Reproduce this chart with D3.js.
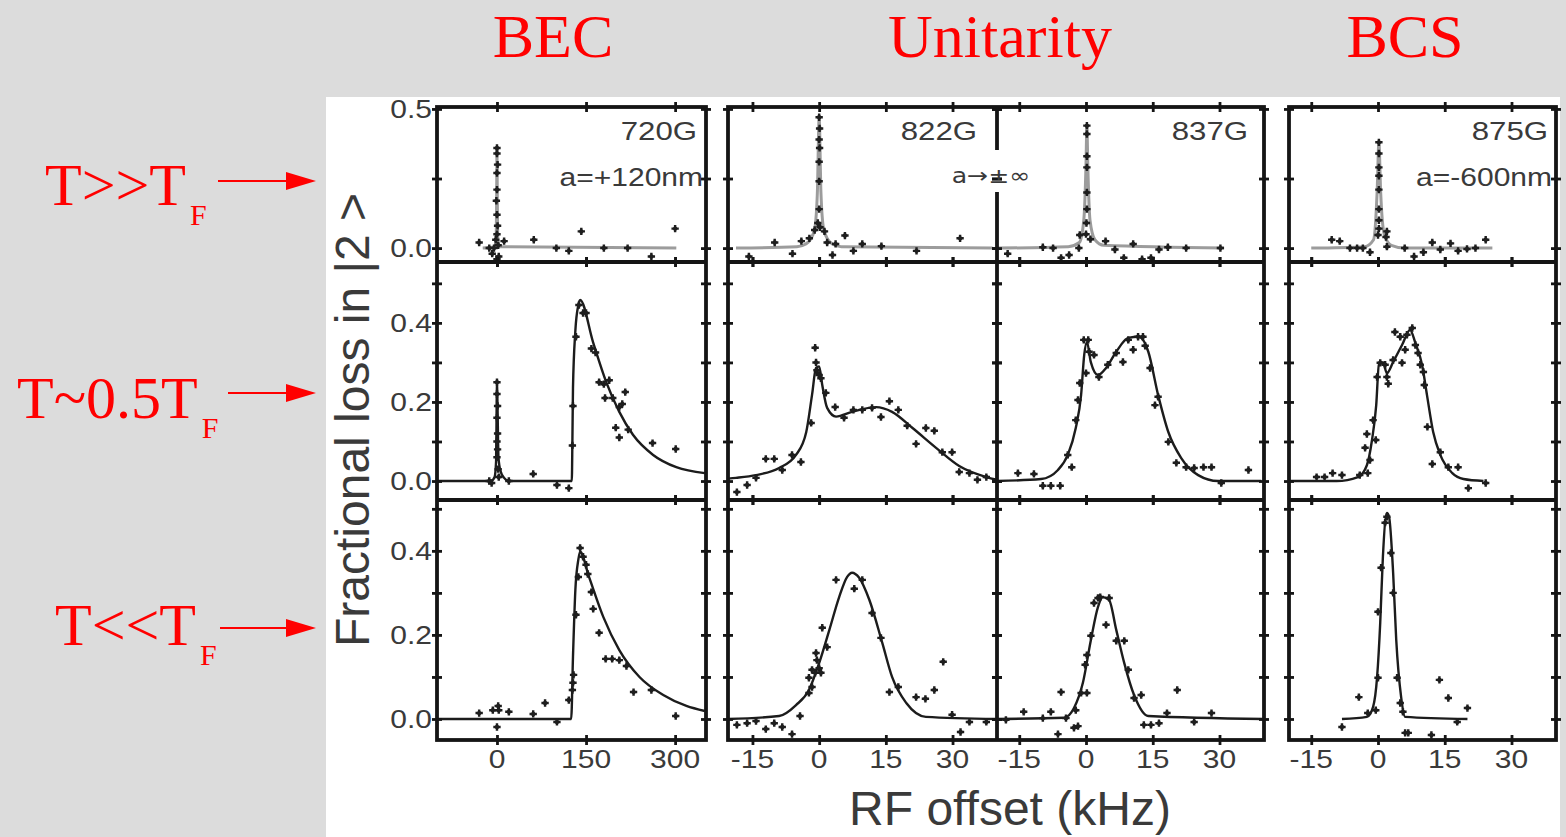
<!DOCTYPE html>
<html>
<head>
<meta charset="UTF-8">
<title>RF spectra - BEC / Unitarity / BCS</title>
<script src="https://cdn.jsdelivr.net/npm/d3@7"></script>
<style>
  body { margin: 0; background: #dcdcdc; }
  svg { display: block; }
</style>
</head>
<body>
<svg id="chart" width="1566" height="837"></svg>
<script>
// ---------------------------------------------------------------
// data
// ---------------------------------------------------------------
const regimeTitles = ["BEC", "Unitarity", "BCS"];
const tempLabels = ["T>>T", "T~0.5T", "T<<T"];
const fieldLabels = ["720G", "822G", "837G", "875G"];
const lengthLabels = ["a=+120nm", "a\u2192\u00b1\u221e", "a=-600nm"];
const becTicks = [0, 150, 300];
const khzTicks = [-15, 0, 15, 30];
const yTicksHot = [0, 0.25, 0.5];
const yTicksCold = [0, 0.1, 0.2, 0.3, 0.4, 0.5];
const yLabelsHot = [0, 0.5];
const yLabelsCold = [0, 0.2, 0.4];

// row 1 : T >> TF
const fitBecHot = [[-24,0],[-4,0.005],[-1.5,0.03],[-0.5,0.2],[0,0.36],[0.5,0.2],[1.5,0.03],[4,0.005],[302,0]];
const ptsBecHot = [[-30,0.02],[-13,0],[-8,-0.02],[-5,0],[-2,0.03],[0,-0.04],[0,0.05],[1,0.08],[0,0.12],[-1,0.17],
  [0,0.21],[0,0.27],[1,0.3],[0,0.34],[0,0.36],[2,0.01],[3,-0.03],[12,0.025],[62,0.03],[100,0],[121,-0.01],
  [142,0.06],[180,0],[220,0],[260,-0.03],[300,0.07]];
const fit822Hot = [[-18.7,0],[-5,0.005],[-3,0.015],[-2,0.03],[-1,0.07],[-0.4,0.2],[0,0.47],[0.4,0.2],[1,0.07],
  [2,0.03],[3,0.015],[5,0.005],[39,0]];
const pts822Hot = [[-15.8,-0.03],[-10,0.02],[-6,-0.02],[-4,0.025],[-2.2,0.035],[-1,0.065],[-0.3,0.09],[0,0.14],
  [0,0.24],[0,0.31],[0.1,0.36],[0,0.39],[0.1,0.43],[0,0.47],[0.2,0.075],[1.2,0.06],[1.8,0.02],[3,-0.025],
  [3.7,0.015],[5.8,0.045],[7.7,-0.01],[9.7,0.015],[14,0.007],[21.9,-0.01],[31.7,0.035]];
const fit837Hot = [[-19.8,0],[-4,0.005],[-1.5,0.02],[-0.5,0.1],[0,0.3],[0.2,0.44],[0.4,0.3],[0.9,0.1],[2,0.03],
  [4,0.01],[31,0]];
const pts837Hot = [[-17.6,-0.02],[-9.7,0.003],[-7.4,0],[-5.6,-0.035],[-3.8,-0.025],[-1.6,0],[-1.4,0.047],
  [0,0.05],[0.1,0.09],[0.2,0.14],[0.2,0.2],[0.2,0.29],[0.2,0.33],[0.2,0.41],[0.2,0.44],[1,0.032],[4.4,0.025],
  [6.5,-0.005],[8.5,-0.035],[10.6,0.015],[12.6,-0.04],[14.6,-0.035],[16.4,-0.005],[18.4,0.003],[22.5,0],[30.2,0]];
const fitBcsHot = [[-15,0],[-3,0.005],[-1,0.03],[-0.2,0.2],[0.2,0.38],[0.6,0.2],[1.4,0.05],[3,0.01],[6,0],[25.7,0]];
const ptsBcsHot = [[-10.4,0.03],[-8.6,0.025],[-6.3,0],[-4.7,0],[-3.4,0],[-1.8,-0.015],[0,0.047],[0.2,0.07],
  [0.2,0.1],[0.2,0.14],[0.2,0.21],[0.2,0.26],[0.2,0.29],[0.2,0.34],[0.2,0.38],[2,0.005],[1.8,0.04],[2,0.06],
  [6,0],[8.1,-0.03],[10.2,-0.015],[12.2,0.02],[14,-0.005],[16.3,0.017],[18,-0.01],[20,-0.003],[21.9,0],[24.2,0.03]];

// row 2 : T ~ 0.5 TF
const fitBecMid = [[-101,0],[-10,0],[-4,0.01],[-1.5,0.05],[-0.5,0.2],[0,0.255],[0.8,0.2],[2.5,0.06],[6,0.025],
  [12,0.008],[20,0],[126,0],[127,0.1],[128,0.235],[132,0.38],[137,0.445],[140,0.458],[162,0.35],[184,0.25],
  [206,0.175],[229,0.117],[263,0.066],[302,0.035],[350,0.02]];
const ptsBecMid = [[0,0.25],[0,0.22],[1,0.19],[0,0.16],[1,0.12],[0,0.1],[1,0.08],[0,0.06],[2,0.03],[3,0.01],
  [-13,0],[-9,-0.005],[20,0],[61,0.018],[101,-0.01],[121,-0.018],[127,0.09],[128,0.19],[133,0.365],[138,0.445],
  [145,0.425],[150,0.425],[159,0.335],[166,0.325],[172,0.25],[180,0.245],[189,0.255],[182,0.21],[195,0.21],
  [206,0.187],[216,0.225],[211,0.195],[200,0.135],[206,0.11],[221,0.13],[262,0.096],[301,0.081]];
const fit822Mid = [[-20.5,0.006],[-18.7,0.008],[-14.2,0.015],[-9,0.033],[-5.2,0.066],[-2.9,0.124],[-1.6,0.218],
  [-0.7,0.286],[0,0.29],[0.7,0.243],[1.8,0.185],[3.8,0.163],[7.4,0.175],[12.8,0.187],[16.4,0.175],[21,0.134],
  [26.3,0.084],[31.5,0.038],[37.6,0.01],[40,0.003]];
const pts822Mid = [[-18.5,-0.028],[-16.2,-0.01],[-14.2,0.008],[-12,0.056],[-10.1,0.056],[-8.3,0.028],[-6.1,0.066],
  [-4.1,0.048],[-1.8,0.147],[-0.9,0.337],[-0.7,0.3],[-0.5,0.28],[0,0.268],[0.4,0.26],[1.5,0.223],[3.6,0.187],
  [5.6,0.16],[7.7,0.18],[9.7,0.18],[11.9,0.185],[13.9,0.162],[15.8,0.202],[17.8,0.18],[19.8,0.14],[21.8,0.094],
  [24,0.134],[25.9,0.127],[27.7,0.073],[29.9,0.073],[31.5,0.023],[33.8,0.02],[35.6,0.003],[37.6,0.01]];
const fit837Mid = [[-20,0],[-10.1,0.005],[-6.3,0.028],[-4.1,0.066],[-2.3,0.134],[-1.1,0.218],[-0.4,0.319],
  [0.2,0.352],[1.1,0.3],[2.7,0.268],[4.5,0.286],[6.8,0.327],[9.5,0.362],[11.9,0.365],[14,0.327],[16.2,0.218],
  [18.5,0.124],[21.4,0.058],[25.2,0.015],[29.7,0],[39.4,0]];
const pts837Mid = [[-15.3,0.02],[-11.7,0.018],[-9.7,-0.012],[-7.9,-0.012],[-5.8,-0.012],[-4.1,0.066],[-3.2,0.035],
  [-2.3,0.154],[-1.8,0.205],[-1.4,0.248],[-0.5,0.357],[0.5,0.357],[0,0.273],[0.7,0.327],[1.8,0.319],[2.9,0.263],
  [4.9,0.294],[6.8,0.324],[8.3,0.301],[9.5,0.357],[10.6,0.332],[11.7,0.365],[12.8,0.365],[13.3,0.342],
  [14.4,0.286],[16.2,0.213],[15.5,0.192],[18.5,0.099],[20.3,0.046],[22.5,0.035],[24.3,0.033],[26.4,0.035],
  [28.2,0.035],[30.4,-0.005],[36.5,0.028]];
const fitBcsMid = [[-19.9,0],[-9.3,0],[-4.5,0.01],[-2.5,0.04],[-1.4,0.1],[-0.4,0.192],[0.2,0.294],[1.1,0.3],
  [2,0.273],[3.4,0.301],[5.4,0.344],[7.2,0.382],[8.4,0.349],[9.9,0.294],[11,0.218],[12.4,0.124],[14,0.066],
  [16.7,0.02],[19.2,0.005],[23.7,0]];
const ptsBcsMid = [[-13.8,0.01],[-12,0.01],[-10.2,0.02],[-8.1,0.015],[-4.1,0.015],[-2.3,0.02],[-1.8,0.053],
  [-2.9,0.084],[-2.5,0.119],[-1.1,0.154],[-0.5,0.104],[-0.2,0.263],[0.5,0.299],[1.6,0.294],[2,0.263],[2.3,0.246],
  [3.8,0.377],[3.4,0.306],[5.4,0.299],[6.1,0.332],[5,0.365],[6.5,0.37],[7.7,0.387],[8.4,0.344],[9,0.324],
  [9.5,0.294],[10.2,0.276],[10.4,0.243],[11.1,0.137],[12.2,0.043],[14,0.073],[15.8,0.035],[18,0.035],
  [20.3,-0.018],[24.2,-0.005]];

// row 3 : T << TF
const fitBecCold = [[-101,0],[125,0],[128,0.148],[132,0.307],[137,0.379],[140,0.398],[155,0.338],[179,0.243],
  [206,0.164],[240,0.1],[280,0.057],[319,0.031],[350,0.019]];
const ptsBecCold = [[-30,0.014],[-7,0.021],[2,0.031],[3,0.021],[20,0.017],[0,-0.019],[61,0.012],[81,0.038],
  [101,-0.007],[121,0.045],[127,0.069],[128,0.086],[129,0.105],[133,0.248],[137,0.338],[140,0.407],[145,0.386],
  [150,0.367],[153,0.345],[159,0.302],[162,0.262],[172,0.205],[183,0.143],[194,0.143],[206,0.14],[218,0.126],
  [230,0.064],[260,0.069],[301,0.007]];
const fit822Cold = [[-20.5,0],[-9,0.007],[-5.2,0.033],[-2.3,0.069],[0,0.133],[2.3,0.212],[4.5,0.29],[6.3,0.338],
  [7.4,0.348],[9,0.336],[11.3,0.283],[14.2,0.181],[16.4,0.1],[19.6,0.038],[24,0.005],[40,0]];
const pts822Cold = [[-18.5,-0.014],[-16.2,-0.01],[-14.2,-0.005],[-12,-0.024],[-10.1,-0.01],[-8.3,-0.019],
  [-6.1,-0.036],[-4.3,0.007],[-2.3,0.062],[-1.6,0.076],[-2.3,0.098],[-1.6,0.117],[-0.9,0.11],[-0.5,0.14],
  [-0.7,0.157],[0,0.121],[0.4,0.11],[0.7,0.217],[1.8,0.171],[3.8,0.331],[7.9,0.31],[9.7,0.331],[11.9,0.252],
  [13.9,0.193],[15.8,0.064],[17.8,0.076],[21.8,0.052],[23.9,0.048],[25.9,0.069],[27.9,0.136],[29.9,0.01],
  [31.8,-0.031],[33.8,-0.007],[37.6,-0.007]];
const fit837Cold = [[-20,0],[-4.9,0.003],[-2.7,0.026],[-0.7,0.086],[1.1,0.188],[2.7,0.267],[3.8,0.29],[5.2,0.283],
  [6.8,0.212],[8.6,0.133],[10.8,0.057],[14,0.007],[40,0]];
const pts837Cold = [[-18,-0.002],[-14,0.017],[-9.7,0.002],[-7.9,0.017],[-6.3,-0.036],[-5.6,0.064],[-4.5,0.002],
  [-2.7,-0.021],[-1.8,-0.017],[-2.3,0.021],[-1.1,0.062],[0.2,0.062],[-0.2,0.129],[0.2,0.152],[1.1,0.198],
  [1.8,0.276],[2.7,0.288],[3.2,0.29],[4.5,0.224],[5.2,0.288],[6.8,0.186],[8.6,0.186],[9.5,0.117],[10.8,0.05],
  [12.4,0.057],[13,-0.014],[14.6,-0.014],[16.4,-0.01],[18.2,0.014],[20.5,0.069],[24.3,-0.007],[28.2,0.014]];
const fitBcsCold = [[-8.1,0],[-2.5,0.005],[-1.1,0.029],[-0.2,0.1],[0.5,0.229],[1.1,0.386],[2,0.49],[2.5,0.48],
  [3.4,0.348],[4.1,0.188],[5.2,0.052],[6.1,0.005],[20.1,0]];
const ptsBcsCold = [[-8.1,-0.019],[-4.3,0.052],[-2.3,0.014],[-0.5,0.021],[0,0.098],[0,0.255],[0.7,0.36],
  [1.6,0.467],[2,0.481],[2.9,0.395],[3.4,0.3],[4.3,0.098],[5,0.038],[5.6,0.017],[6.1,-0.033],[6.8,-0.033],
  [12,-0.038],[13.8,0.093],[15.8,0.05],[17.8,-0.007],[20.1,0.026]];

// ---------------------------------------------------------------
// layout
// ---------------------------------------------------------------
const svg = d3.select("#chart");
const ink = "#151515";
const textGrey = "#3a3a3a";
const red = "#ff0000";

svg.append("rect").attr("x", 326).attr("y", 97).attr("width", 1234).attr("height", 740).attr("fill", "#fff");

const cols = [
  { x0: 437, x1: 706, dom: [-101, 352], ticks: becTicks },
  { x0: 728, x1: 997, dom: [-20.5, 40], ticks: khzTicks },
  { x0: 997, x1: 1264, dom: [-20, 40], ticks: khzTicks },
  { x0: 1289, x1: 1556, dom: [-20, 40], ticks: khzTicks }
];
const rows = [
  { y0: 107, y1: 262, dom: [-0.05, 0.507], ticks: yTicksHot, labels: yLabelsHot },
  { y0: 262, y1: 500, dom: [-0.048, 0.554], ticks: yTicksCold, labels: yLabelsCold },
  { y0: 500, y1: 740, dom: [-0.05, 0.521], ticks: yTicksCold, labels: yLabelsCold }
];
cols.forEach(c => c.x = d3.scaleLinear().domain(c.dom).range([c.x0, c.x1]));
rows.forEach(r => r.y = d3.scaleLinear().domain(r.dom).range([r.y1, r.y0]));

const panels = [
  [fitBecHot, ptsBecHot, fit822Hot, pts822Hot, fit837Hot, pts837Hot, fitBcsHot, ptsBcsHot],
  [fitBecMid, ptsBecMid, fit822Mid, pts822Mid, fit837Mid, pts837Mid, fitBcsMid, ptsBcsMid],
  [fitBecCold, ptsBecCold, fit822Cold, pts822Cold, fit837Cold, pts837Cold, fitBcsCold, ptsBcsCold]
];

const marker = d3.symbol().type(d3.symbolCross).size(30);
const defs = svg.append("defs");

rows.forEach(function (r, ri) {
  cols.forEach(function (c, ci) {
    const id = "clip" + ri + ci;
    defs.append("clipPath").attr("id", id).append("rect")
      .attr("x", c.x0).attr("y", r.y0).attr("width", c.x1 - c.x0).attr("height", r.y1 - r.y0);

    const g = svg.append("g");
    const fit = panels[ri][ci * 2];
    const pts = panels[ri][ci * 2 + 1];
    const line = d3.line()
      .x(function (d) { return c.x(d[0]); })
      .y(function (d) { return r.y(d[1]); })
      .curve(d3.curveMonotoneX);

    g.append("path")
      .attr("clip-path", "url(#" + id + ")")
      .attr("d", line(fit))
      .attr("fill", "none")
      .attr("stroke", ri === 0 ? "#9c9c9c" : "#1c1c1c")
      .attr("stroke-width", ri === 0 ? 3 : 2.4);

    const dots = g.selectAll(".pt").data(pts).enter().append("g")
      .attr("transform", function (d) { return "translate(" + c.x(d[0]) + "," + r.y(d[1]) + ")"; });
    dots.append("path").attr("d", marker).attr("fill", "#1e1e1e");
    dots.append("circle").attr("r", 2.2).attr("fill", "#1e1e1e");

    // crossing ticks on the frame
    const tk = function (axis, tx, ty, vals) {
      const a = g.append("g").attr("transform", "translate(" + tx + "," + ty + ")")
        .call(axis.tickValues(vals).tickSize(5).tickFormat(""));
      a.select(".domain").remove();
      a.selectAll(".tick line").attr("stroke", ink).attr("stroke-width", 2.8);
    };
    tk(d3.axisLeft(r.y), c.x0, 0, r.ticks);
    tk(d3.axisRight(r.y), c.x0, 0, r.ticks);
    tk(d3.axisLeft(r.y), c.x1, 0, r.ticks);
    tk(d3.axisRight(r.y), c.x1, 0, r.ticks);
    tk(d3.axisTop(c.x), 0, r.y0, c.ticks);
    tk(d3.axisBottom(c.x), 0, r.y0, c.ticks);
    tk(d3.axisTop(c.x), 0, r.y1, c.ticks);
    tk(d3.axisBottom(c.x), 0, r.y1, c.ticks);
  });
});

// frames
const frame = svg.append("g").attr("fill", "none").attr("stroke", ink).attr("stroke-width", 3.8);
[[437, 706], [728, 1264], [1289, 1556]].forEach(function (f) {
  frame.append("rect").attr("x", f[0]).attr("y", 107).attr("width", f[1] - f[0]).attr("height", 633);
  frame.append("line").attr("x1", f[0]).attr("x2", f[1]).attr("y1", 262).attr("y2", 262);
  frame.append("line").attr("x1", f[0]).attr("x2", f[1]).attr("y1", 500).attr("y2", 500);
});
frame.append("line").attr("x1", 997).attr("x2", 997).attr("y1", 107).attr("y2", 150);
frame.append("line").attr("x1", 997).attr("x2", 997).attr("y1", 192).attr("y2", 740);

// stretched sans text helper (the original lettering is wide)
function wideText(x, y, txt, anchor, size, family) {
  return svg.append("text")
    .attr("transform", "translate(" + x + "," + y + ") scale(1.2,1)")
    .attr("text-anchor", anchor)
    .attr("font-family", family || "Liberation Sans, Arial, sans-serif")
    .attr("font-size", size)
    .attr("fill", textGrey)
    .text(txt);
}

// y tick labels (first column only)
rows.forEach(function (r) {
  r.labels.forEach(function (v) { wideText(432, r.y(v) + 9, v.toFixed(1), "end", 25); });
});
// x tick labels (bottom row)
cols.forEach(function (c) {
  c.ticks.forEach(function (v) { wideText(c.x(v), 768, String(v), "middle", 25); });
});

// panel annotations
wideText(697, 140, fieldLabels[0], "end", 26);
wideText(977, 140, fieldLabels[1], "end", 26);
wideText(1248, 140, fieldLabels[2], "end", 26);
wideText(1548, 140, fieldLabels[3], "end", 26);
wideText(703, 186, lengthLabels[0], "end", 25);
wideText(991, 183, lengthLabels[1], "middle", 21, "DejaVu Sans, sans-serif");
wideText(1552, 186, lengthLabels[2], "end", 25);

// axis titles
svg.append("text")
  .attr("transform", "translate(369,420) rotate(-90)")
  .attr("text-anchor", "middle")
  .attr("font-family", "Liberation Sans, Arial, sans-serif")
  .attr("font-size", 48).attr("fill", textGrey)
  .text("Fractional loss in |2 >");
svg.append("text")
  .attr("x", 1010).attr("y", 825)
  .attr("text-anchor", "middle")
  .attr("font-family", "Liberation Sans, Arial, sans-serif")
  .attr("font-size", 48).attr("fill", textGrey)
  .text("RF offset (kHz)");

// red regime titles
[553, 1000, 1405].forEach(function (x, i) {
  svg.append("text")
    .attr("x", x).attr("y", 57)
    .attr("text-anchor", "middle")
    .attr("font-family", "Liberation Serif, Times New Roman, serif")
    .attr("font-size", 62).attr("fill", red)
    .text(regimeTitles[i]);
});

// temperature labels with arrows
const tempPos = [{ x: 45, y: 205, ay: 181, ax: 218 }, { x: 17, y: 418, ay: 393, ax: 228 }, { x: 55, y: 645, ay: 628, ax: 220 }];
tempPos.forEach(function (p, i) {
  const t = svg.append("text")
    .attr("x", p.x).attr("y", p.y)
    .attr("font-family", "Liberation Serif, Times New Roman, serif")
    .attr("font-size", 60).attr("fill", red);
  t.append("tspan").text(tempLabels[i]);
  t.append("tspan").attr("dx", 4).attr("dy", 20).attr("font-size", 30).text("F");
  svg.append("line").attr("x1", p.ax).attr("x2", 292).attr("y1", p.ay).attr("y2", p.ay)
    .attr("stroke", red).attr("stroke-width", 2);
  svg.append("path")
    .attr("d", "M316," + p.ay + "L286," + (p.ay - 9) + "L286," + (p.ay + 9) + "Z")
    .attr("fill", red);
});
</script>
</body>
</html>
